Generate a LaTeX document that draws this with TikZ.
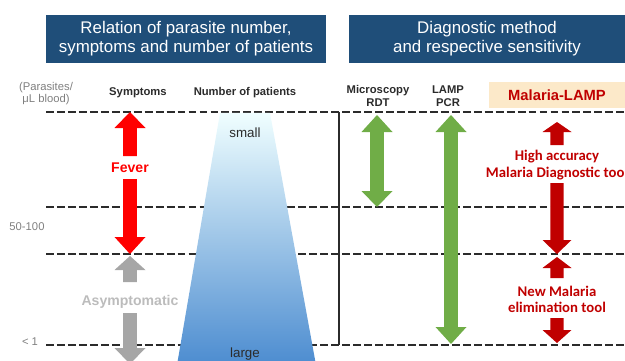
\documentclass[tikz,border=0pt]{standalone}
\usepackage{fontspec}
\setmainfont{Liberation Sans}
\newfontfamily\narrowfont{Carlito}
\usetikzlibrary{positioning}

\definecolor{titleblue}{HTML}{1F4E79}
\definecolor{feverred}{HTML}{FF0000}
\definecolor{lampred}{HTML}{C00000}
\definecolor{testgreen}{HTML}{70AD47}
\definecolor{asymgray}{HTML}{A6A6A6}
\definecolor{labelgray}{HTML}{7F7F7F}
\definecolor{peach}{HTML}{FCE9C9}
\definecolor{textdark}{HTML}{2B2B2B}

% one end of a fat range arrow: [head half width] colour, x, tip y, head base y, shaft end y
\newcommand{\halfarrow}[6][15.5]{%
  \fill[#2] (#3,#4) -- (#3+#1,#5) -- (#3+0.45*#1,#5) -- (#3+0.45*#1,#6)
    -- (#3-0.45*#1,#6) -- (#3-0.45*#1,#5) -- (#3-#1,#5) -- cycle;}

\begin{document}
\begin{tikzpicture}[
    x=0.025cm, y=-0.025cm,
    title/.style={fill=titleblue, text=white, minimum height=1.2cm, align=center,
        font=\fontsize{12}{13.5}\selectfont},
    head/.style={text=textdark, align=center, inner sep=1pt, font=\fontsize{8}{9.2}\selectfont\bfseries},
    axis/.style={text=labelgray, align=center, inner sep=1pt, font=\fontsize{8}{8.6}\selectfont},
    level/.style={draw=textdark, line width=1.3pt, dash pattern=on 5.6pt off 2.2pt},
    tag/.style={align=center, inner sep=1pt, font=\fontsize{10}{11}\selectfont\bfseries},
    lamptag/.style={text=lampred, align=center, inner sep=1pt,
        font=\narrowfont\fontsize{10.5}{11.5}\selectfont\bfseries}
]
    \path[use as bounding box] (0,0) rectangle (625,361);
    \clip (0,0) rectangle (625,361);

    % titles
    \node[title, minimum width=7cm] (rel-title) at (186,39)
        {Relation of parasite number,\\symptoms and number of patients};
    \node[title, minimum width=6.9cm] (diag-title) at (487,39)
        {Diagnostic method\\and respective sensitivity};

    % column heads
    \node[axis] (unit) at (46,94) {(Parasites/\\μL blood)};
    \node[head] (symptoms) at (138,93) {Symptoms};
    \node[head] (patients) at (245,93) {Number of patients};
    \node[head] (micro) at (378,96) {Microscopy\\RDT};
    \node[head] (lamp) at (448,96) {LAMP\\PCR};
    \node[fill=peach, text=lampred, minimum width=3.4cm, minimum height=0.625cm,
        font=\fontsize{10.5}{12}\selectfont\bfseries] (mlamp) at (557,95) {Malaria-LAMP};

    % parasite levels
    \foreach \y in {112,207,254,345}
        \draw[level] (46,\y) -- (625,\y);
    \draw[line width=0.9pt, textdark] (339,112) -- (339,345);
    \node[axis] (mid) at (27,227) {50-100};
    \node[axis] (low) at (30,342) {< 1};

    % patients
    \shade[top color=blue!4!cyan!6, bottom color={rgb,255:red,76;green,140;blue,208}]
        (220,113) -- (270,113) -- (316,365) -- (177,365) -- cycle;
    \node[text=textdark, font=\fontsize{9.5}{11}\selectfont] (small) at (245,133) {small};
    \node[text=textdark, font=\fontsize{9.5}{11}\selectfont] (large) at (245,354) {large};

    % symptoms
    \halfarrow{feverred}{130}{112}{128}{156}
    \halfarrow{feverred}{130}{254}{237}{179}
    \node[tag, text=feverred] (fever) at (130,168) {Fever};
    \halfarrow{asymgray}{130}{256}{270}{282}
    \halfarrow{asymgray}{130}{364}{348}{313}
    \node[tag, text=asymgray!75] (asym) at (130,302) {Asymptomatic};

    % sensitivity
    \halfarrow{testgreen}{377}{115}{132}{165}
    \halfarrow{testgreen}{377}{207}{191}{160}
    \halfarrow{testgreen}{451}{115}{132}{232}
    \halfarrow{testgreen}{451}{344}{327}{228}

    % Malaria-LAMP
    \halfarrow[14.5]{lampred}{557}{122}{132}{145}
    \halfarrow[14.5]{lampred}{557}{254}{240}{183}
    \node[lamptag] (accuracy) at (557,165) {High accuracy\\Malaria Diagnostic tool};
    \halfarrow[14.5]{lampred}{557}{257}{268}{278}
    \halfarrow[14.5]{lampred}{557}{343}{330}{318}
    \node[lamptag] (elimination) at (557,299) {New Malaria\\elimination tool};
\end{tikzpicture}
\end{document}
